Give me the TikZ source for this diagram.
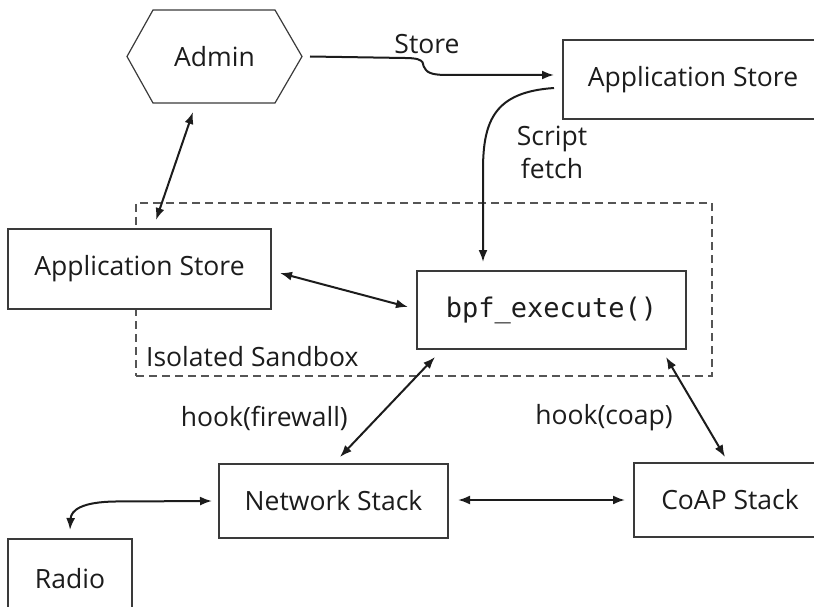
\documentclass[tikz,border=0pt]{standalone}
\usepackage{fontspec}
\setmainfont{Open Sans}
\setmonofont{DejaVu Sans Mono}
\usetikzlibrary{arrows.meta,calc}

\definecolor{ink}{HTML}{1C1C1C}
\definecolor{edge}{HTML}{3A3A3A}
\definecolor{fence}{HTML}{555555}

\tikzset{
  lbl/.style={inner sep=0pt, text=ink, font=\fontsize{26.5}{33}\selectfont},
  box/.style={lbl, draw=edge, fill=white, line width=1.2pt, outer sep=9pt},
  link/.style={draw=ink, line width=2pt, -{Latex[length=12pt,width=9pt]}},
  both/.style={draw=ink, line width=2pt, {Latex[length=12pt,width=9pt]}-{Latex[length=12pt,width=9pt]}},
}

\begin{document}
\begin{tikzpicture}[x=1pt,y=-1pt]
\useasboundingbox (0,0) rectangle (814,607);

% isolated sandbox region
\node[draw=fence, line width=1.1pt, dash pattern=on 8pt off 5pt,
      minimum width=576pt, minimum height=173pt, inner sep=0pt] (sandbox) at (424,289.5) {};
\node[lbl, anchor=west] (sblbl) at (146,356.5) {Isolated Sandbox};

% admin hexagon
\node[lbl, minimum width=175pt, minimum height=93pt, outer sep=0pt] (admin) at (214.5,56.5) {Admin};
\draw[edge, line width=1.2pt]
  (admin.west) -- ([xshift=26pt]admin.north west) -- ([xshift=-27pt]admin.north east)
  -- (admin.east) -- ([xshift=-27pt]admin.south east) -- ([xshift=26pt]admin.south west) -- cycle;

% boxes
\node[box, minimum width=260pt, minimum height=79pt] (storeR) at (693,79.5) {Application Store};
\node[box, minimum width=263pt, minimum height=80pt] (storeL) at (139.5,269) {Application Store};
\node[box, minimum width=269pt, minimum height=78pt, font=\ttfamily\fontsize{27}{33}\selectfont] (bpf) at (551.5,310) {bpf\_execute()};
\node[box, minimum width=229pt, minimum height=74pt] (net) at (333.5,501) {Network Stack};
\node[box, minimum width=192pt, minimum height=74pt] (coap) at (730,500) {CoAP Stack};
\node[box, minimum width=124pt, minimum height=79pt] (radio) at (70,578.5) {Radio};

% connectors
\draw[link] ($(admin.east)+(8,0)$) -- (405,58)
  .. controls (430,58) and (420,66) .. (426,70)
  .. controls (430,75) and (440,75) .. (452,75)
  -- ($(storeR.west)+(0,-4.5)$);
\node[lbl] (storelbl) at (427,44) {Store};

\draw[link] ($(storeR.west)+(0,8.5)$) .. controls (495,92) and (483,120) .. (483,170)
  -- ($(bpf.north)+(-68.5,0)$);
\node[lbl, align=center] (fetchlbl) at (552,152.5) {Script\\fetch};

\draw[both] ($(admin.south)+(-21.5,9)$) -- ($(storeL.north)+(16.5,0)$);
\draw[both] ($(storeL.east)+(0,4)$) -- ($(bpf.west)+(0,-3)$);
\draw[both] ($(bpf.south)+(-116.5,-1)$) -- ($(net.north)+(6.5,2)$);
\draw[both] ($(bpf.south)+(114.5,-1)$) -- ($(coap.north)+(-5,3)$);
\draw[both] ($(net.east)+(1,-1)$) -- (coap.west);
\draw[both] ($(net.west)+(2,0)$) -- (115,501.5) .. controls (82,502) and (71,510) .. (radio.north);

\node[lbl, anchor=east] (fwlbl) at (348,418) {hook(firewall)};
\node[lbl, anchor=east] (coaplbl) at (673,418) {hook(coap)};
\end{tikzpicture}
\end{document}
